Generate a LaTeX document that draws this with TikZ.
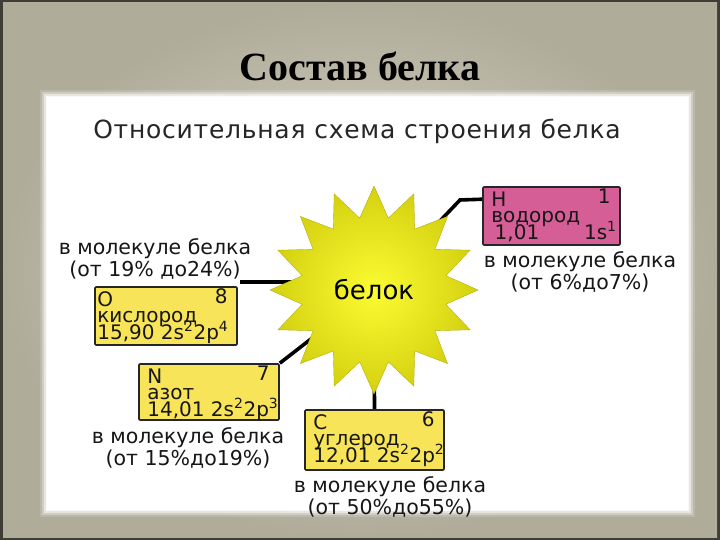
\documentclass[tikz,border=0pt]{standalone}
\usepackage{fontspec}
\setmainfont{DejaVu Sans}
\newfontfamily\titlefont{Liberation Serif}
\usepackage{tikz}
\usetikzlibrary{%
	shapes.geometric,% wg. star
	positioning,%
	calc
}
\definecolor{framedark}{RGB}{62,62,54}
\definecolor{slidelight}{RGB}{222,218,204}
\definecolor{slidedark}{RGB}{176,172,154}
\definecolor{hpink}{RGB}{214,94,150}
\definecolor{elyellow}{RGB}{248,228,88}
\definecolor{starcore}{RGB}{252,252,50}
\definecolor{staredge}{RGB}{212,208,16}
\definecolor{inktext}{RGB}{22,22,22}
\tikzstyle{element} = [draw=black!85, line width=1.6pt, rounded corners=1pt, inner sep=0pt]
\tikzstyle{link} = [draw, line width=3.6pt]
\tikzstyle{share} = [align=center, font=\fontsize{20.5}{22}\selectfont, text=inktext]
\tikzstyle{boxtext} = [font=\fontsize{20}{20}\selectfont, inner sep=0pt, text=inktext]
\pgfdeclarelayer{bg}
\pgfdeclarelayer{links}
\pgfsetlayers{bg,links,main}

\begin{document}
\begin{tikzpicture}[x=1pt,y=-1pt]
		\useasboundingbox (0,0) rectangle (720,540);
		
		% First we draw the slide
		\begin{pgfonlayer}{bg}
		\fill[framedark] (0,0) rectangle (720,540);
		\shade[inner color=slidelight, outer color=slidedark] (3,3) rectangle (717,537);
		\foreach \d/\op in {7/0.15, 5/0.3, 3/0.5, 1/0.75}
		\fill[white, opacity=\op] (47-\d,97-\d) rectangle (688+\d,510+\d);
		\fill[white] (47,97) rectangle (688,510);
		\end{pgfonlayer}
		
		% Titles
		\node[font=\titlefont\bfseries\fontsize{40}{40}\selectfont] (title) at (360,66) {Состав белка};
		\node[font=\fontsize{25}{25}\selectfont\addfontfeature{LetterSpace=3}, text=black!85] (subtitle) at (357,131) {Относительная схема строения белка};
		
		% The protein star
		\node[star, star points=16, star point ratio=1.42, minimum size=208pt, inner sep=0pt,
			shade, inner color=starcore, outer color=staredge, draw=staredge!85!black, line width=0.4pt,
			font=\fontsize{26}{26}\selectfont] (protein) at (374,290) {белок};
		
		% Element boxes
		\foreach \name/\cx/\cy/\w/\h/\clr/\pad/\sym/\num/\elem/\low/\lowright in {
			hbox/551.5/216/137/58/hpink/9/H/1/водород/{\,1,01}/{1s\textsuperscript{1}},
			obox/166/316/142/58/elyellow/3/O/8/кислород/{15,90 2s\textsuperscript{2}2p\textsuperscript{4}}/{},
			nbox/209/392/140/56/elyellow/9/N/7/азот/{14,01 2s\textsuperscript{2}2p\textsuperscript{3}}/{},
			cbox/374.5/440/139/60/elyellow/9/C/6/углерод/{12,01 2s\textsuperscript{2}2p\textsuperscript{2}}/{}
		}{
		\node[element, fill=\clr, minimum width=\w pt, minimum height=\h pt] (\name) at (\cx,\cy) {};
		\node[boxtext, anchor=base west] at ($(\name.north west)+(\pad,20)$) {\sym};
		\node[boxtext, anchor=base east] at ($(\name.north east)+(-10,17)$) {\num};
		\node[boxtext, anchor=base west] at ($(\name.north west)+(\pad,36)$) {\elem};
		\node[boxtext, anchor=base west] at ($(\name.north west)+(\pad,53)$) {\low};
		\node[boxtext, anchor=base east] at ($(\name.north east)+(-4,53)$) {\lowright};
		}
		
		% Shares in the molecule
		\foreach \name/\cx/\cy/\range in {
			oshare/155/259/{(от 19\% до24\%)},
			hshare/580/272/{(от 6\%до7\%)},
			nshare/188/448/{(от 15\%до19\%)},
			cshare/390/497/{(от 50\%до55\%)}
		}
		\node[share] (\name) at (\cx,\cy) {в молекуле белка\\\range};
		
		% Connect boxes with the star
		\coordinate (hbend) at (460,200);
		\coordinate (ostart) at (240,282);
		\begin{pgfonlayer}{links}
		\draw[link] ($(hbox.north west)+(0,13)$) -- (hbend) -- (protein.center);
		\draw[link] (ostart) -- (ostart -| protein.center);
		\draw[link] (nbox.north east) -- (protein.center);
		\draw[link] (cbox.north) -- (protein.center);
		\end{pgfonlayer}
		
\end{tikzpicture}
\end{document}
